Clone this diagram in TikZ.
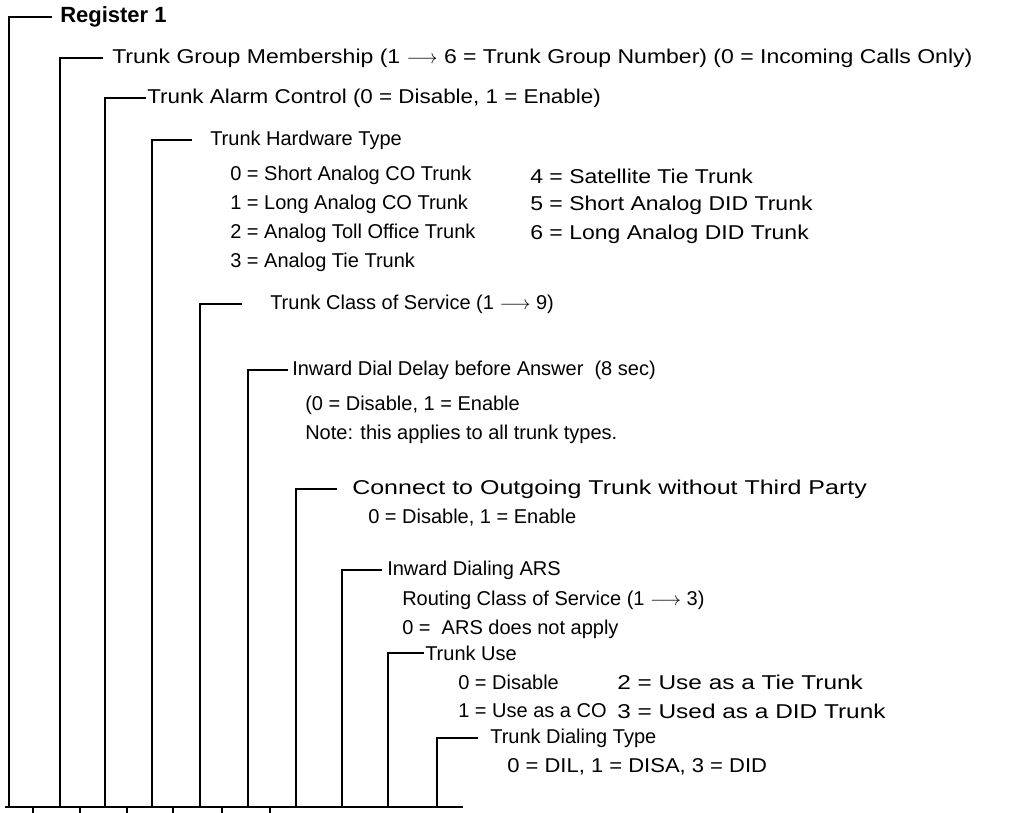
\documentclass[tikz,border=0pt]{standalone}
\usepackage{fontspec}
\setmainfont{Liberation Sans}
\usetikzlibrary{positioning}
\newcommand{\toarrow}{$\longrightarrow$}

\begin{document}
\begin{tikzpicture}[x=0.75pt,y=-0.75pt,font=\fontsize{15}{18}\selectfont,
  every node/.style={anchor=west,inner sep=0pt},
  wide/.style={font=\fontsize{15}{18}\selectfont\addfontfeatures{FakeStretch=#1}},
  bar/.style={line width=2pt}]
\useasboundingbox (0,0) rectangle (1011,813);

% field names
\node[font=\fontsize{16.5}{19}\selectfont\bfseries] (f1) at (60,17) {Register 1};
\node[wide=1.15] (f2) at (112,58) {Trunk Group Membership (1 \toarrow\ 6 = Trunk Group Number) (0 = Incoming Calls Only)};
\node[wide=1.12] (f3) at (147,98) {Trunk Alarm Control (0 = Disable, 1 = Enable)};
\node (f4) at (210,140) {Trunk Hardware Type};
\node (f5) at (270,304) {Trunk Class of Service (1 \toarrow\ 9)};
\node (f6) at (292,370) {Inward Dial Delay before Answer\ \ (8 sec)};
\node[wide=1.25] (f7) at (352,489) {Connect to Outgoing Trunk without Third Party};
\node (f8) at (387,570) {Inward Dialing ARS};
\node (f9) at (425,653) {Trunk Use};
\node (f10) at (490,738) {Trunk Dialing Type};

% values
\node (hw0) at (230,175) {0 = Short Analog CO Trunk};
\node (hw1) at (230,204) {1 = Long Analog CO Trunk};
\node (hw2) at (230,233) {2 = Analog Toll Office Trunk};
\node (hw3) at (230,262) {3 = Analog Tie Trunk};
\node[wide=1.15] (hw4) at (530,176) {4 = Satellite Tie Trunk};
\node[wide=1.15] (hw5) at (530,205) {5 = Short Analog DID Trunk};
\node[wide=1.15] (hw6) at (530,234) {6 = Long Analog DID Trunk};
\node (dd0) at (305,405) {(0 = Disable, 1 = Enable};
\node (dd1) at (305,434) {Note: this applies to all trunk types.};
\node (co0) at (368,518) {0 = Disable, 1 = Enable};
\node (ars0) at (402,600) {Routing Class of Service (1 \toarrow\ 3)};
\node (ars1) at (402,629) {0 =\ \ ARS does not apply};
\node (use0) at (458,682) {0 = Disable};
\node (use1) at (458,711) {1 = Use as a CO};
\node[wide=1.22] (use2) at (617,682) {2 = Use as a Tie Trunk};
\node[wide=1.22] (use3) at (617,711) {3 = Used as a DID Trunk};
\node[wide=1.1] (dt0) at (507,767) {0 = DIL, 1 = DISA, 3 = DID};

% register line and bit ticks
\coordinate (base0) at (5,807);
\coordinate (base1) at (463,807);
\draw[bar] (base0) -- (base1);
\foreach \x in {33,80,127,173,222,270}
  \draw[line width=1.2pt] (\x,807) -- (\x,813);

% brackets
\foreach \i/\x/\g in {1/9/8,2/60/9,3/105/1,4/152/18,5/200/28,6/248/4,7/296/15,8/342/5,9/388/1,10/437/12}{
  \coordinate (b\i) at (\x,807);
  \draw[bar] (b\i) |- ([xshift=-\g*0.75pt]f\i.west);
}
\end{tikzpicture}
\end{document}
